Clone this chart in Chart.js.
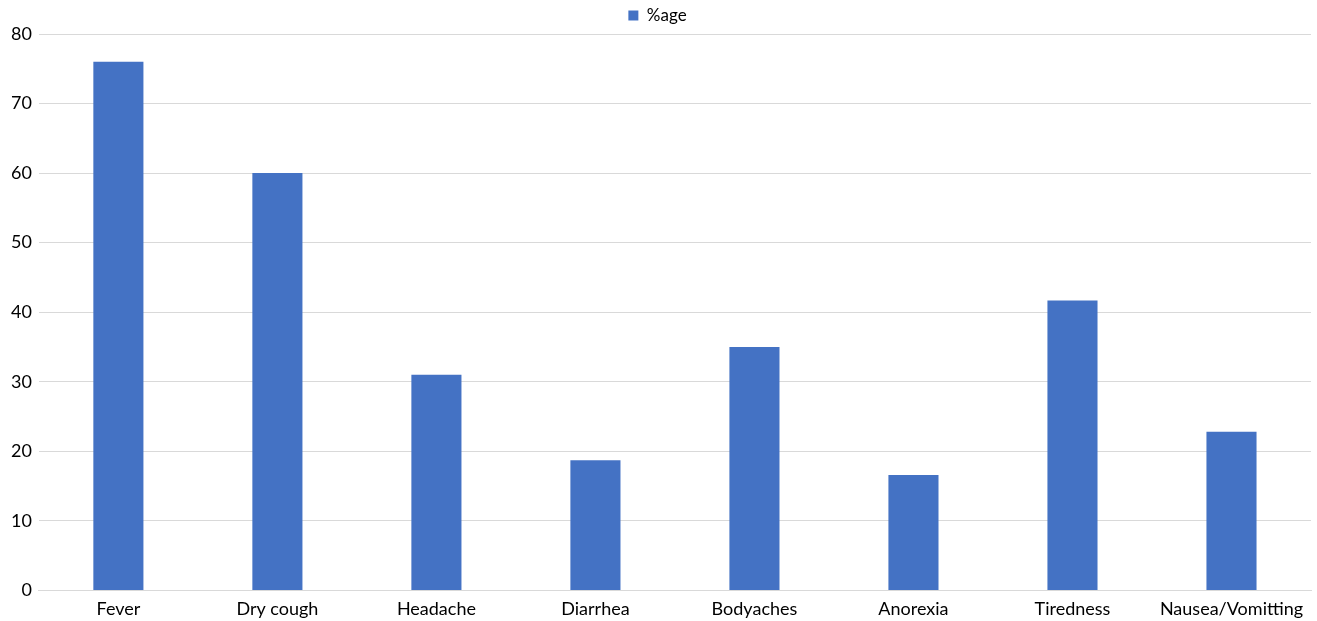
<!DOCTYPE html>
<html>
<head>
<meta charset="utf-8">
<script src="https://cdn.jsdelivr.net/npm/chart.js@4"></script>
<style>
    html, body { margin: 0; padding: 0; background: #fff; }
    #wrap { width: 1317px; height: 621px; }
</style>
</head>
<body>
<div id="wrap"><canvas id="myChart" width="1317" height="621"></canvas></div>
<script>
const symptoms = ['Fever', 'Dry cough', 'Headache', 'Diarrhea', 'Bodyaches', 'Anorexia', 'Tiredness', 'Nausea/Vomitting']
const percentages = [76, 60, 31, 18.7, 35, 16.6, 41.7, 22.8]
const seriesLabel = '%age'

const ctx = document.getElementById('myChart').getContext('2d')

new Chart(ctx, {
    type: 'bar',
    data: {
        labels: symptoms,
        datasets: [{
            label: seriesLabel,
            data: percentages,
            backgroundColor: '#4472C4',
            borderWidth: 0,
            categoryPercentage: 1,
            barPercentage: 0.315
        }]
    },
    options: {
        responsive: false,
        animation: false,
        layout: {
            // labels sit close to the bottom edge like the original
            padding: { left: 4, right: 6, top: 1, bottom: -7 }
        },
        plugins: {
            tooltip: { enabled: false },
            legend: {
                position: 'top',
                labels: {
                    boxWidth: 10,
                    boxHeight: 10,
                    color: '#000',
                    font: { family: 'Lato', size: 17 },
                    padding: 6
                }
            }
        },
        scales: {
            x: {
                grid: { display: false, drawTicks: false },
                border: { color: '#d9d9d9', width: 1 },
                ticks: {
                    color: '#000',
                    font: { family: 'Lato', size: 18 },
                    padding: 8,
                    maxRotation: 0,
                    autoSkip: false
                }
            },
            y: {
                min: 0,
                max: 80,
                grid: { color: '#d9d9d9', drawTicks: false },
                border: { display: false },
                ticks: {
                    stepSize: 10,
                    color: '#000',
                    font: { family: 'Lato', size: 18 },
                    padding: 7
                }
            }
        }
    }
})
</script>
</body>
</html>
